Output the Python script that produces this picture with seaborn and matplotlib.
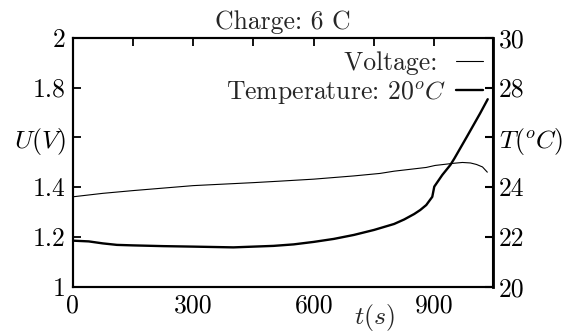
import matplotlib
matplotlib.use("Agg")
import matplotlib.pyplot as plt
from matplotlib.lines import Line2D
import seaborn as sns

# voltage curve (left axis)
t_volt = [0, 75, 150, 300, 450, 516, 600, 700, 765, 800, 880, 902, 950, 970, 990, 1005, 1020, 1032]
volt = [1.361, 1.375, 1.386, 1.406, 1.418, 1.424, 1.432, 1.445, 1.455, 1.464, 1.479, 1.487,
        1.496, 1.499, 1.497, 1.491, 1.481, 1.460]

# temperature curve (right axis)
t_temp = [0, 40, 75, 110, 150, 225, 300, 400, 500, 550, 600, 650, 700, 750, 800, 825, 850,
          865, 880, 895, 900, 920, 940, 950, 981, 1014, 1033]
temp = [21.85, 21.82, 21.74, 21.68, 21.66, 21.63, 21.61, 21.58, 21.64, 21.70, 21.80, 21.92,
        22.08, 22.28, 22.52, 22.70, 22.92, 23.08, 23.28, 23.61, 24.02, 24.49, 24.89, 25.15,
        26.02, 26.96, 27.53]

xticks = [0, 150, 300, 450, 600, 750, 900]
xticklabels = ["0", "", "300", "", "600", "", "900"]
uticks = [1, 1.2, 1.4, 1.6, 1.8, 2]
uticklabels = ["1", "1.2", "1.4", "$U(V)$", "1.8", "2"]
tticks = [20, 22, 24, 26, 28, 30]
tticklabels = ["20", "22", "24", "$T(^oC)$", "28", "30"]

FS = 18.5

sns.set_style("white")
plt.rcParams["font.family"] = ["cmr10", "DejaVu Serif"]
plt.rcParams["mathtext.fontset"] = "cm"
plt.rcParams["axes.formatter.use_mathtext"] = True
plt.rcParams["font.size"] = FS

fig = plt.figure(figsize=(5.71, 3.32), dpi=100)
ax = fig.add_axes([0.1273, 0.1364, 0.864 - 0.1273, 0.8864 - 0.1364])
ax2 = ax.twinx()

sns.lineplot(x=t_volt, y=volt, ax=ax, color="black", linewidth=0.8)
sns.lineplot(x=t_temp, y=temp, ax=ax2, color="black", linewidth=1.7)

ax.set_xlim(0, 1047)
ax.set_ylim(1, 2)
ax2.set_ylim(20, 30)

ax.set_xticks(xticks)
ax.set_xticklabels(xticklabels)
ax.set_yticks(uticks)
ax.set_yticklabels(uticklabels)
ax2.set_yticks(tticks)
ax2.set_yticklabels(tticklabels)

ax.tick_params(axis="both", direction="in", length=6, width=1.3, top=True, right=False,
               colors="black", pad=5, labelsize=FS)
ax2.tick_params(axis="y", direction="in", length=6, width=1.5, colors="black", pad=4,
                labelsize=FS)
for a in (ax, ax2):
    for s in a.spines.values():
        s.set_linewidth(1.5)
        s.set_color("black")
ax2.spines["right"].set_linewidth(2)

ax.set_xlabel("$t(s)$", fontsize=FS)
ax.xaxis.set_label_coords(752 / 1047, -0.06)
ax.set_ylabel("")
ax2.set_ylabel("")
ax.set_title("Charge: 6 C", fontsize=FS, pad=6)

handles = [Line2D([], [], color="black", linewidth=0.8),
           Line2D([], [], color="black", linewidth=1.7)]
ax2.legend(handles, ["Voltage: ", "Temperature: $20^oC$"], loc="upper right",
           markerfirst=False, frameon=False, handlelength=1.05, handletextpad=0.4,
           labelspacing=0.15, borderaxespad=0.0, bbox_to_anchor=(1.0, 0.985),
           fontsize=FS)

fig.savefig("out.png", dpi=100)
